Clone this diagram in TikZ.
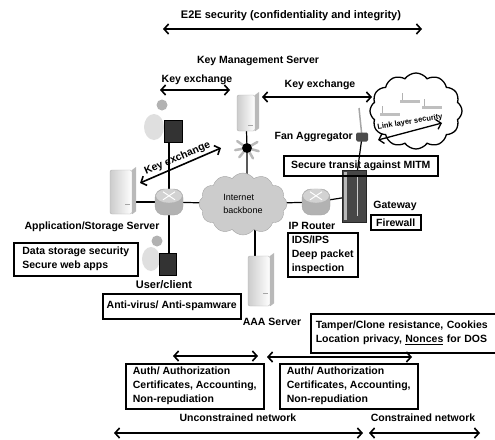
\documentclass[tikz,border=0pt]{standalone}
\usepackage{fontspec}
\setmainfont{Liberation Sans}[BoldFont={Liberation Sans Bold}]
\usetikzlibrary{positioning, arrows.meta, shapes.symbols, backgrounds}
\tikzset{lbl/.style={
    font=\bfseries\fontsize{10.5}{14}\selectfont,
    inner sep=1pt
}}
\tikzset{secbox/.style={
    draw,
    line width=1.5pt,
    anchor=north west,
    align=left,
    inner xsep=3pt,
    inner ysep=1pt,
    font=\bfseries\fontsize{10.5}{14}\selectfont
}}
\tikzset{server/.style={
    rectangle,
    rounded corners=2pt,
    draw=gray!60,
    left color=gray!40,
    right color=white,
    minimum width=18pt,
    minimum height=36pt
}}
\tikzset{router/.style={
    rectangle,
    rounded corners=9pt,
    draw=gray!70,
    fill=gray!60,
    minimum width=28pt,
    minimum height=26pt
}}
\tikzset{screen/.style={
    rectangle,
    draw=black,
    fill=black!80,
    minimum width=18pt,
    minimum height=22pt
}}
\tikzset{netcloud/.style={
    cloud,
    cloud puffs=12,
    cloud puff arc=110,
    aspect=1.4
}}
\tikzset{dbl/.style={<->, line width=1.6pt}}
\tikzset{wire/.style={line width=1.2pt}}

\begin{document}
\begin{tikzpicture}[x=1pt, y=-1pt, >={Straight Barb[length=4.5pt, width=10pt]}]
    \useasboundingbox (0,0) rectangle (495,439);

    % end-to-end span
    \coordinate (e2eL) at (163,29);
    \coordinate (e2eR) at (422,29);
    \node[lbl, font=\bfseries\fontsize{11}{14}\selectfont] (e2e) at (291,16) {E2E security (confidentiality and integrity)};
    \draw[dbl] (e2eL) -- (e2eR);

    % servers
    \node[server] (kms) at (246,113) {};
    \node[server, minimum width=22pt, minimum height=44pt] (appsrv) at (121,192) {};
    \node[server, minimum width=22pt, minimum height=50pt] (aaa) at (259,281) {};
    \foreach \s in {kms, appsrv, aaa} {
        \fill[gray!55] (\s.north east) -- ++(4,-3) -- ([xshift=4pt, yshift=3pt]\s.south east) -- (\s.south east) -- cycle;
        \draw[gray!70] ([xshift=-7pt, yshift=-12pt]\s.east) -- ([xshift=-2pt, yshift=-12pt]\s.east);
    }
    \node[lbl] (kmstxt) at (258,61) {Key Management Server};
    \node[lbl] (apptxt) at (92,227) {Application/Storage Server};
    \node[lbl] (aaatxt) at (272,322) {AAA Server};

    % routers and clouds
    \node[router] (rtA) at (169,202) {};
    \node[router] (rtB) at (316,202) {};
    \foreach \r in {rtA, rtB} {
        \fill[gray!35] ([yshift=-7pt]\r.north) ellipse (13 and 7);
        \draw[white, line width=1pt] ([xshift=-6pt, yshift=-3pt]\r.north) -- ([xshift=6pt, yshift=-11pt]\r.north);
        \draw[white, line width=1pt] ([xshift=6pt, yshift=-3pt]\r.north) -- ([xshift=-6pt, yshift=-11pt]\r.north);
    }
    \node[netcloud, fill=gray!40, draw=gray!70, minimum width=88pt, minimum height=62pt,
          align=left, font=\fontsize{9}{13}\selectfont] (inet) at (243,204) {Internet\\backbone};
    \node[netcloud, fill=white, draw=black, line width=1.3pt, minimum width=92pt, minimum height=76pt] (lnk) at (416,111) {};
    \node[lbl] (rtBtxt) at (312,226) {IP Router};

    % access point on the key server link
    \node[circle, fill=black, inner sep=3.5pt] (wap) at (247,148) {};
    \begin{scope}[on background layer]
        \foreach \a in {15,60,130,170,215,330} {
            \draw[gray!55, line width=2.5pt, line cap=round] (wap.center) -- ++(\a:12);
        }
    \end{scope}

    % people at terminals
    \fill[gray!25] (154,127) ellipse (10 and 13);
    \fill[gray!60] (162,105) circle (5.5);
    \node[screen] (adminpc) at (173,131) {};
    \fill[gray!25] (151,259) ellipse (9 and 12);
    \fill[gray!60] (157,241) circle (5.5);
    \node[screen, minimum width=17pt] (userpc) at (168,264) {};
    \node[lbl, font=\bfseries\fontsize{11}{14}\selectfont] (usertxt) at (164,285) {User/client};

    % gateway and fan aggregator
    \node[rectangle, fill=black!72, draw=black!85, minimum width=24pt, minimum height=52pt] (gw) at (354,196) {};
    \fill[gray!55] ([xshift=2pt, yshift=-2pt]gw.north west) rectangle ([xshift=5pt, yshift=2pt]gw.south west);
    \draw[gray!40] ([xshift=3pt, yshift=-6pt]gw.north) -- ([xshift=3pt, yshift=6pt]gw.south);
    \node[rectangle, rounded corners=1.5pt, fill=black!70, minimum width=12pt, minimum height=9pt, inner sep=0pt] (fan) at (362,137) {};
    \coordinate (fanant) at (359,108);
    \node[lbl, anchor=east] (fantxt) at (354,137) {Fan Aggregator};
    \node[lbl] (gwtxt) at (395,206) {Gateway};

    % wiring
    \begin{scope}[on background layer]
        \draw[wire] (rtA.center) -- (rtA.center -| appsrv.center);
        \draw[wire] (rtA.center) -- (inet.center) -- (rtB.center) -- (gw.center);
        \draw[wire] (rtA.center) -- (rtA.center |- adminpc.south);
        \draw[wire] (rtA.center) -- (rtA.center |- userpc.north);
        \draw[wire] (wap.center |- inet.center) -- (wap.center) -- (kms.center);
        \draw[wire] ([xshift=-4pt]aaa.center) -- ([xshift=-4pt]aaa.center |- inet.center);
        \draw[wire] (gw.center) -- (fan.center);
        \draw[gray!70, line width=1.5pt] (fan.center) -- (fanant);
    \end{scope}

    % link layer cloud contents
    \foreach \x/\y in {410/100, 432/106, 390/113} {
        \fill[gray!50] (\x-10,\y) rectangle (\x+10,\y+3);
        \draw[gray!60] (\x-8,\y) -- (\x-8,\y-7);
    }
    \node[rotate=9, font=\bfseries\fontsize{7.5}{9}\selectfont] (llsec) at (410,122) {Link layer security};
    \coordinate (llA) at (378,140);
    \coordinate (llB) at (442,123);
    \draw[dbl, line width=1.3pt] (llA) -- (llB);

    % key exchanges
    \coordinate (kxA) at (160,90);
    \coordinate (kxB) at (230,90);
    \node[lbl] (kxAtxt) at (197,80) {Key exchange};
    \draw[dbl] (kxA) -- (kxB);
    \coordinate (kxC) at (262,97);
    \coordinate (kxD) at (372,97);
    \node[lbl] (kxCtxt) at (320,85) {Key exchange};
    \draw[dbl] (kxC) -- (kxD);
    \coordinate (kxE) at (140,183);
    \coordinate (kxF) at (221,148);
    \draw[dbl] (kxE) -- (kxF) node[lbl, midway, sloped, above=1pt] (kxEtxt) {Key exchange};

    % security boxes
    \node[secbox, inner xsep=6pt, minimum width=124pt, minimum height=33pt] (datab) at (13,242) {Data storage security\\Secure web apps};
    \node[secbox, minimum width=138pt, minimum height=25pt] (avb) at (102,293) {Anti-virus/ Anti-spamware};
    \node[secbox, minimum width=70pt, minimum height=44pt] (idsb) at (287,232) {IDS/IPS\\Deep packet\\inspection};
    \node[secbox, minimum width=154pt, minimum height=20pt] (mitmb) at (283,155) {Secure transit against MITM};
    \node[secbox, minimum width=50pt, minimum height=15pt] (fwb) at (370,214) {Firewall};
    \node[secbox, minimum height=39pt, text width=182pt, inner xsep=5pt] (tamperb) at (310,313) {Tamper/Clone resistance, Cookies\\Location privacy, \underline{Nonces} for DOS};
    \node[secbox, minimum width=138pt, minimum height=45pt] (authA) at (125,363) {Auth/ Authorization\\Certificates, Accounting,\\Non-repudiation};
    \node[secbox, minimum width=138pt, minimum height=45pt] (authB) at (279,363) {Auth/ Authorization\\Certificates, Accounting,\\Non-repudiation};

    % authentication spans
    \coordinate (auA) at (173,356);
    \coordinate (auB) at (258,356);
    \coordinate (auC) at (267,357);
    \coordinate (auD) at (412,357);
    \draw[dbl] (auA) -- (auB);
    \draw[dbl] (auC) -- (auD);

    % network extents
    \node[lbl] (uncon) at (238,418) {Unconstrained network};
    \node[lbl] (con) at (423,418) {Constrained network};
    \coordinate (unL) at (114,433);
    \coordinate (unR) at (363,433);
    \coordinate (coL) at (369,433);
    \coordinate (coR) at (480,433);
    \draw[dbl] (unL) -- (unR);
    \draw[dbl] (coL) -- (coR);
\end{tikzpicture}
\end{document}
